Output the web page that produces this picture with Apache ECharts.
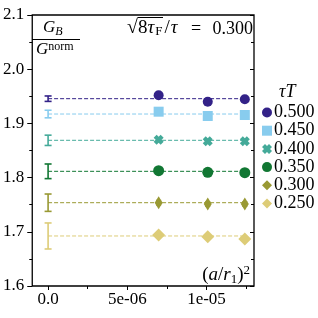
<!DOCTYPE html>
<html><head><meta charset="utf-8">
<script src="https://cdn.jsdelivr.net/npm/echarts@6/dist/echarts.min.js"></script>
<style>html,body{margin:0;padding:0;background:#fff}#c{width:318px;height:318px}</style>
</head><body><div id="c"></div>
<script>
// ---- data ----
var tauT = ['0.500','0.450','0.400','0.350','0.300','0.250'];
var xVals = [6.98e-6, 1.008e-5, 1.242e-5];
var v500 = [1.952, 1.940, 1.9445];
var v450 = [1.9216, 1.9137, 1.9155];
var v400 = [1.870, 1.867, 1.867];
var v350 = [1.8128, 1.8098, 1.8090];
var v300 = [1.7537, 1.7513, 1.7513];
var v250 = [1.6941, 1.6910, 1.6867];
var e500 = [0.005, 0.003, 0.004];
var e450 = [0.003, 0.003, 0.003];
var e400 = [0.003, 0.003, 0.003];
var e350 = [0.004, 0.003, 0.003];
var e300 = [0.004, 0.004, 0.004];
var e250 = [0.003, 0.003, 0.003];
var extrap = [1.9456, 1.9173, 1.8688, 1.8116, 1.7537, 1.6923];
var extrapErr = [0.005, 0.007, 0.0095, 0.0135, 0.016, 0.024];
var xTickLabels = [0, 5e-6, 1e-5];
var xTickLabelText = ['0.0', '5e-06', '1e-05'];
var xMinorTicks = [2.5e-6, 7.5e-6, 1.25e-5];

var values = [v500, v450, v400, v350, v300, v250];
var errs = [e500, e450, e400, e350, e300, e250];
var colors = ['#332288', '#88CCEE', '#44AA99', '#117733', '#999933', '#DDCC77'];
var xPath = 'path://M3,0 L5,2 L7,0 L10,3 L8,5 L10,7 L7,10 L5,8 L3,10 L0,7 L2,5 L0,3 Z';
var symbols = ['circle', 'rect', xPath, 'circle', 'diamond', 'diamond'];
var sizes = [10, 10, 10, 11, [8, 13], [13, 13]];
var FONT = 'Liberation Serif';

function errRender(capHalf) {
  return function (params, api) {
    var x = api.value(0), y = api.value(1), e = api.value(2);
    var top = api.coord([x, y + e]), bot = api.coord([x, y - e]);
    var st = { stroke: api.visual('color'), lineWidth: 1.6 };
    return { type: 'group', children: [
      { type: 'line', shape: { x1: top[0], y1: top[1], x2: bot[0], y2: bot[1] }, style: st },
      { type: 'line', shape: { x1: top[0] - capHalf, y1: top[1], x2: top[0] + capHalf, y2: top[1] }, style: st },
      { type: 'line', shape: { x1: bot[0] - capHalf, y1: bot[1], x2: bot[0] + capHalf, y2: bot[1] }, style: st }
    ]};
  };
}

var series = [];
tauT.forEach(function (t, i) {
  series.push({
    name: 'line' + t, type: 'line', silent: true, symbol: 'none',
    data: [[0, extrap[i]], [xVals[2], extrap[i]]],
    lineStyle: { color: colors[i], width: 1, type: [4, 2] }, z: 1
  });
  series.push({
    name: 'ex' + t, type: 'custom', renderItem: errRender(3.5),
    itemStyle: { color: colors[i] },
    data: [[0, extrap[i], extrapErr[i]]], z: 3
  });
  series.push({
    name: 'pe' + t, type: 'custom', renderItem: errRender(2.5),
    itemStyle: { color: colors[i] },
    data: xVals.map(function (x, k) { return [x, values[i][k], errs[i][k]]; }), z: 3
  });
  series.push({
    name: t, type: 'scatter', symbol: symbols[i], symbolSize: sizes[i],
    itemStyle: { color: colors[i], opacity: 1 },
    data: xVals.map(function (x, k) { return [x, values[i][k]]; }), z: 4
  });
});

var chart = echarts.init(document.getElementById('c'), null, { renderer: 'canvas' });
var axisFont = { fontFamily: FONT, fontSize: 17, color: '#000' };
chart.setOption({
  animation: false,
  grid: { left: 32, right: 64, top: 15, bottom: 32, show: true, borderColor: '#000', borderWidth: 1.3, backgroundColor: 'transparent' },
  xAxis: [{
    type: 'value', min: -1e-6, max: 1.3e-5, position: 'bottom',
    axisLine: { show: false, onZero: false }, splitLine: { show: false },
    axisTick: { show: true, customValues: xTickLabels, length: 4, lineStyle: { color: '#000', width: 1 } },
    axisLabel: Object.assign({ customValues: xTickLabels, margin: 5,
      formatter: function (v) { var k = xTickLabels.indexOf(v); return k >= 0 ? xTickLabelText[k] : ''; } }, axisFont)
  }, {
    type: 'value', min: -1e-6, max: 1.3e-5, position: 'bottom', offset: 0,
    axisLine: { show: false, onZero: false }, splitLine: { show: false }, axisLabel: { show: false },
    axisTick: { show: true, customValues: xMinorTicks, length: 3, lineStyle: { color: '#000', width: 1 } }
  }],
  yAxis: [{
    type: 'value', min: 1.6, max: 2.1, interval: 0.1, position: 'left',
    axisLine: { show: false, onZero: false }, splitLine: { show: false },
    axisTick: { show: true, length: 5, lineStyle: { color: '#000', width: 1 } },
    minorTick: { show: true, splitNumber: 2, length: 3, lineStyle: { color: '#000', width: 1 } },
    axisLabel: Object.assign({ margin: 8, formatter: function (v) { return v.toFixed(1); } }, axisFont)
  }, {
    type: 'value', min: 1.6, max: 2.1, interval: 0.1, position: 'right',
    axisLine: { show: false, onZero: false }, splitLine: { show: false }, axisLabel: { show: false },
    axisTick: { show: true, inside: true, length: 4, lineStyle: { color: '#000', width: 1 } },
    minorTick: { show: true, splitNumber: 2, length: 3, lineStyle: { color: '#000', width: 1 } }
  }],
  legend: {
    data: tauT, orient: 'vertical', left: 262, top: 103.5, itemGap: 0.2,
    itemWidth: 10, itemHeight: 10, padding: 0,
    textStyle: { fontFamily: FONT, fontSize: 18, color: '#000', lineHeight: 18, padding: [0, 0, 0, -3] }
  },
  series: series,
  graphic: [
    { type: 'text', left: 279, top: 83, style: { text: 'τT', font: 'italic 18px ' + FONT, fill: '#000' } },
    { type: 'text', left: 43, top: 19, style: { text: '{g|G}{s|B}', rich: {
      g: { font: 'italic 17px ' + FONT, fill: '#000' },
      s: { font: 'italic 12px ' + FONT, fill: '#000', padding: [8, 0, 0, 0] } } } },
    { type: 'line', shape: { x1: 32, y1: 39.5, x2: 80, y2: 39.5 }, style: { stroke: '#000', lineWidth: 1 } },
    { type: 'text', left: 36, top: 41, style: { text: '{g|G}{s|norm}', rich: {
      g: { font: 'italic 17px ' + FONT, fill: '#000' },
      s: { font: '12px ' + FONT, fill: '#000', padding: [0, 0, 6, 0] } } } },
    { type: 'text', left: 127, top: 18, style: { text: '{r|√}{u|8}{t|τ}{s|F}{v|/}{t|τ}', rich: {
      r: { font: '20px ' + FONT, fill: '#000' },
      u: { font: '19px ' + FONT, fill: '#000' },
      v: { font: '19px ' + FONT, fill: '#000', padding: [0, 1, 0, 2] },
      t: { font: 'italic 19px ' + FONT, fill: '#000', padding: [0, 1, 0, 0] },
      s: { font: '13px ' + FONT, fill: '#000', padding: [7, 0, 0, 0] } } } },
    { type: 'text', left: 191, top: 20, style: { text: '=', font: '18px ' + FONT, fill: '#000' } },
    { type: 'text', right: 65, top: 20, style: { text: '0.300', font: '18px ' + FONT, fill: '#000' } },
    { type: 'line', shape: { x1: 138, y1: 17.5, x2: 163, y2: 17.5 }, style: { stroke: '#000', lineWidth: 1 } },
    { type: 'text', right: 68, top: 264, style: { text: '{u|(}{t|a}{u|/}{t|r}{s|1}{u|)}{p|2}', rich: {
      u: { font: '19px ' + FONT, fill: '#000' },
      t: { font: 'italic 19px ' + FONT, fill: '#000' },
      s: { font: '13px ' + FONT, fill: '#000', padding: [9, 0, 0, 0] },
      p: { font: '13px ' + FONT, fill: '#000', padding: [0, 0, 9, 0] } } } }
  ]
});
</script>
</body></html>
